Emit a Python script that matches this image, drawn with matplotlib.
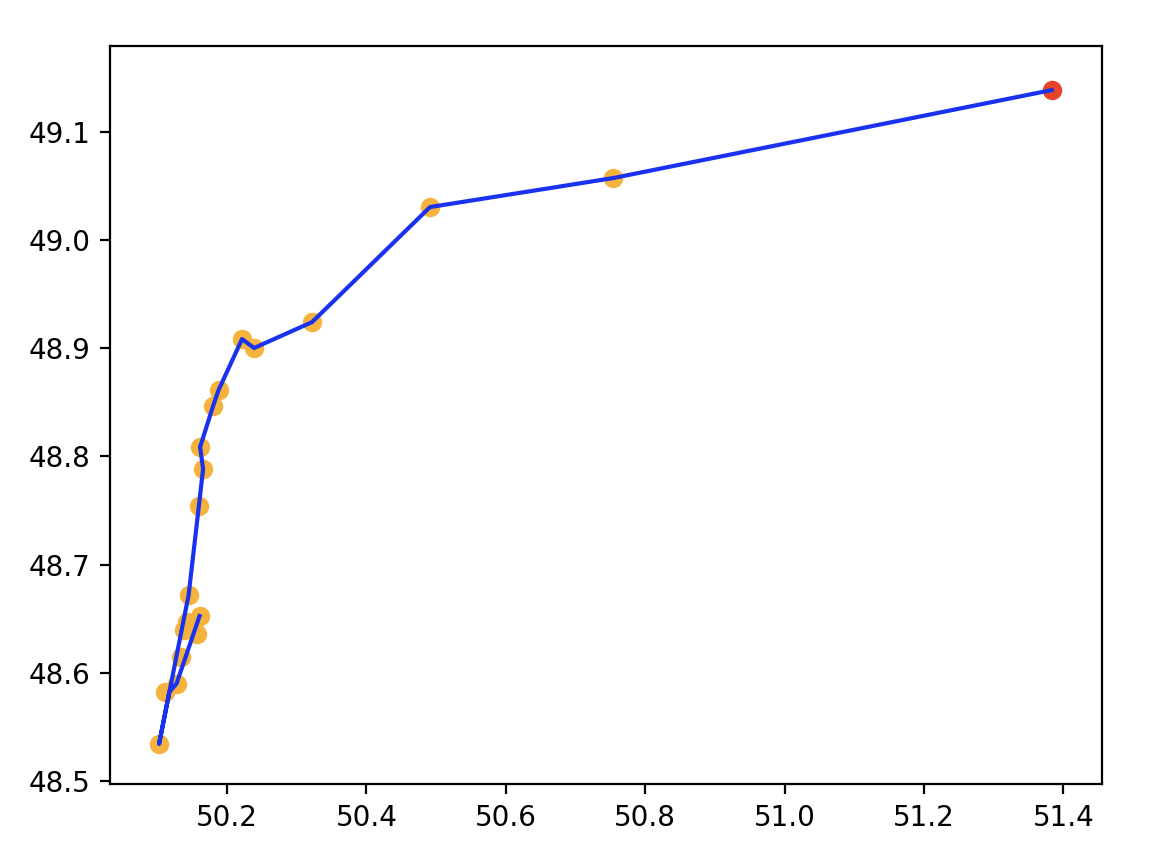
#!/usr/bin/env python3
"""
Track plot: observed positions (scatter) with the route line on top,
latest position highlighted in red.
"""

import matplotlib
matplotlib.use("Agg")
import matplotlib.pyplot as plt

# observed positions (x, y)
obs_x = [50.1024, 50.1115, 50.1275, 50.1333, 50.1383, 50.1419, 50.1562,
         50.1605, 50.1448, 50.1598, 50.1656, 50.1613, 50.1799, 50.1878,
         50.2215, 50.2387, 50.3220, 50.4912, 50.7538]
obs_y = [48.534, 48.5821, 48.5899, 48.6144, 48.6394, 48.6468, 48.6357,
         48.6524, 48.6718, 48.7541, 48.7883, 48.8087, 48.8466, 48.8614,
         48.9086, 48.9003, 48.9243, 49.0307, 49.0575]

# latest position
last_x = [51.3832]
last_y = [49.1389]

# route line vertices
track_x = [50.1605, 50.1275, 50.1172, 50.1024, 50.1448, 50.1656, 50.1613,
           50.1799, 50.1878, 50.2215, 50.2387, 50.3220, 50.4912, 50.7538,
           51.3832]
track_y = [48.6524, 48.5899, 48.5821, 48.534, 48.6718, 48.7883, 48.8087,
           48.8466, 48.8614, 48.9086, 48.9003, 48.9243, 49.0307, 49.0575,
           49.1389]

fig = plt.figure(figsize=(5.77, 4.30), dpi=200)
ax = fig.add_axes([110 / 1154, 1 - 784.3 / 860, 991.7 / 1154, 738.3 / 860])

ax.scatter(obs_x, obs_y, color='#F5B33D')
ax.scatter(last_x, last_y, color='#E8432B')
ax.plot(track_x, track_y, color='#1832F0', linewidth=1.5)

ax.set_xlim(50.032, 51.455)
ax.set_ylim(48.4967, 49.1797)
ax.set_xticks([50.2, 50.4, 50.6, 50.8, 51.0, 51.2, 51.4])
ax.set_yticks([48.5, 48.6, 48.7, 48.8, 48.9, 49.0, 49.1])

fig.savefig('out.png', dpi=200)
